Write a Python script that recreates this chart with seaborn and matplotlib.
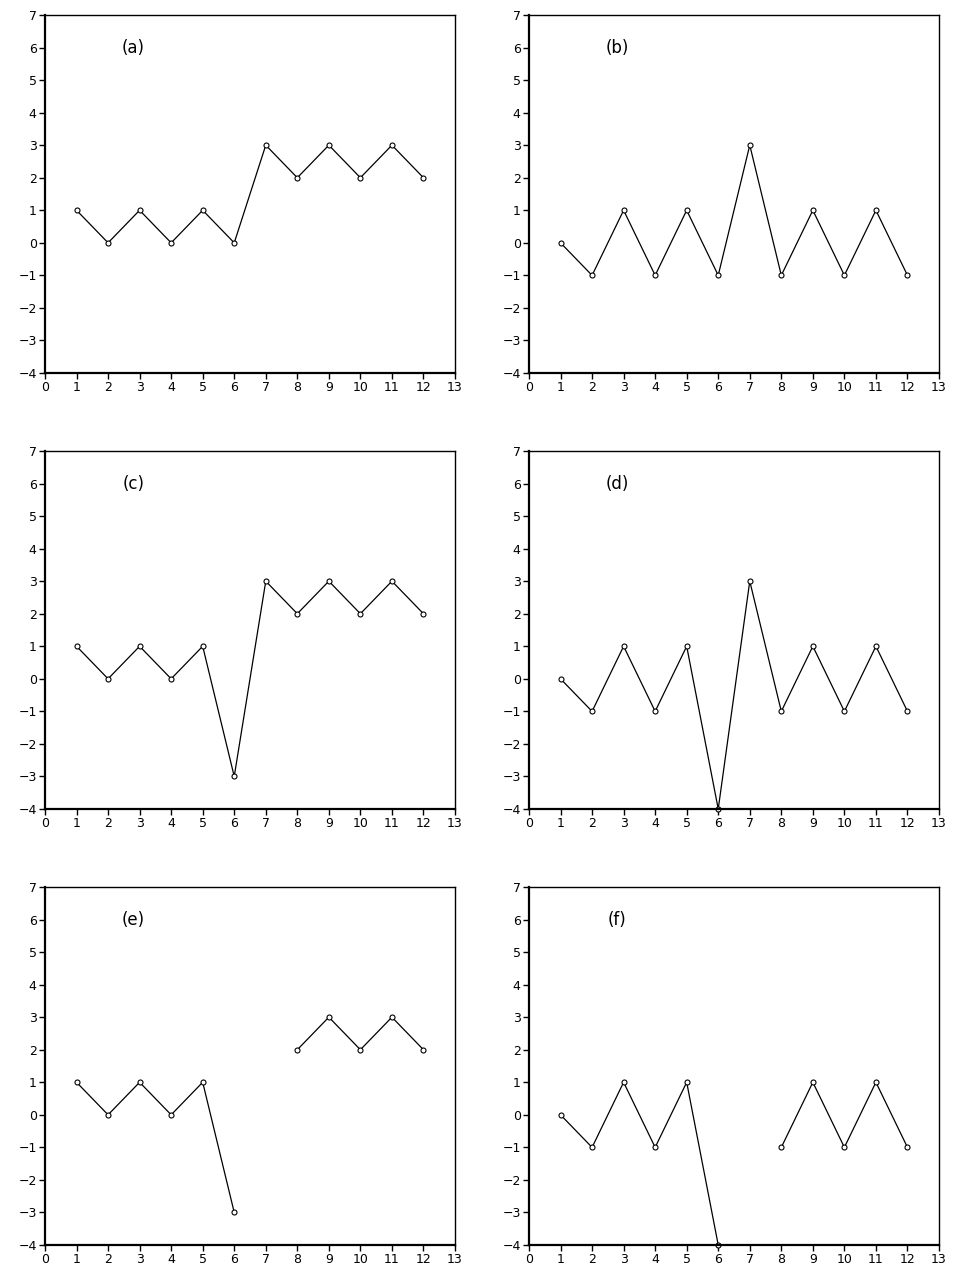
import matplotlib.pyplot as plt
import seaborn as sns
import pandas as pd
import numpy as np

x_vals = list(range(1, 13))
panel_labels = ["(a)", "(b)", "(c)", "(d)", "(e)", "(f)"]
series_a = [1, 0, 1, 0, 1, 0, 3, 2, 3, 2, 3, 2]
series_b = [0, -1, 1, -1, 1, -1, 3, -1, 1, -1, 1, -1]
series_c = [1, 0, 1, 0, 1, -3, 3, 2, 3, 2, 3, 2]
series_d = [0, -1, 1, -1, 1, -4, 3, -1, 1, -1, 1, -1]
series_e = [1, 0, 1, 0, 1, -3, np.nan, 2, 3, 2, 3, 2]
series_f = [0, -1, 1, -1, 1, -4, np.nan, -1, 1, -1, 1, -1]
all_series = [series_a, series_b, series_c, series_d, series_e, series_f]
x_ticks = list(range(0, 14))
y_ticks = list(range(-4, 8))

sns.set_style("ticks")
plt.rcParams['font.family'] = ['DejaVu Sans']

fig = plt.figure(figsize=(9.54, 12.66), dpi=100)
W, H = 954, 1266
lefts = [45, 529]
tops = [15, 451, 887]
pw, ph = 410, 358

for i, (lab, ys) in enumerate(zip(panel_labels, all_series)):
    r, c = divmod(i, 2)
    ax = fig.add_axes([lefts[c] / W, 1 - (tops[r] + ph) / H, pw / W, ph / H])
    df = pd.DataFrame({"x": x_vals, "y": ys})
    # split into segments so gaps (NaN) break the line
    df["seg"] = df["y"].isna().cumsum()
    df = df.dropna()
    for _, seg in df.groupby("seg"):
        sns.lineplot(data=seg, x="x", y="y", ax=ax, color="black", linewidth=0.9,
                     marker="o", markersize=3.6, markerfacecolor="white",
                     markeredgecolor="black", markeredgewidth=0.8, clip_on=False)
    ax.set_xlim(0, 13)
    ax.set_ylim(-4, 7)
    ax.set_xticks(x_ticks)
    ax.set_yticks(y_ticks)
    ax.set_xlabel("")
    ax.set_ylabel("")
    ax.tick_params(direction="out", length=4, width=1, labelsize=9, pad=2, colors="black")
    for s in ["top", "right"]:
        ax.spines[s].set_linewidth(1.0)
    for s in ["left", "bottom"]:
        ax.spines[s].set_linewidth(1.6)
    for s in ax.spines.values():
        s.set_color("black")
    ax.text(2.8, 6.0, lab, fontsize=12, ha="center", va="center", color="black")

fig.savefig("out.png", dpi=100)
